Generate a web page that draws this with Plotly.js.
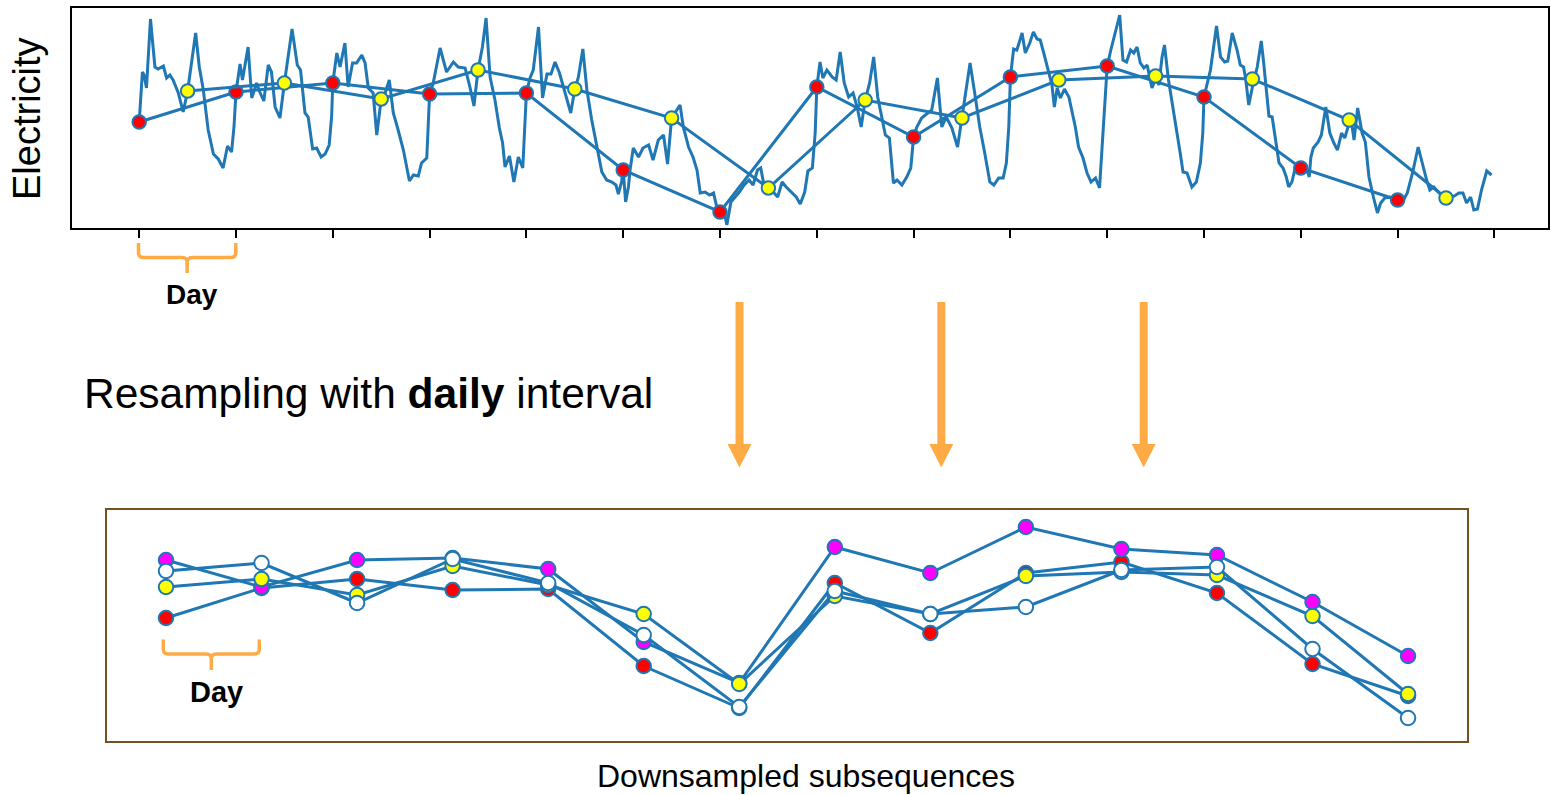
<!DOCTYPE html>
<html>
<head>
<meta charset="utf-8">
<script src="https://cdn.plot.ly/plotly-3.0.1.min.js"></script>
<style>html,body{margin:0;padding:0;background:#fff;}#chart{width:1550px;height:795px;}</style>
</head>
<body>
<div id="chart"></div>
<script>
// ---- Data (hourly-ish electricity readings, arbitrary units) ----
const seriesHours = [
  0,0.8,1.2,1.8,2.8,3.9,4.7,6.0,6.8,7.6,
  8.4,9.7,10.9,12.0,14.0,14.9,15.9,17.1,18.4,19.6,
  20.8,21.9,22.9,23.5,24.0,25.0,25.6,27.0,27.9,29.1,
  29.9,30.9,32.0,32.8,33.7,34.9,36.0,37.9,39.2,40.0,
  41.1,41.9,43.0,44.0,45.1,46.1,47.1,47.7,48.0,49.0,
  49.8,51.0,51.8,52.9,53.9,55.2,56.0,56.8,58.0,58.9,
  60.0,60.9,62.0,63.0,64.2,65.5,67.0,68.0,69.2,70.0,
  71.3,72.0,72.9,74.6,76.2,77.9,79.1,80.8,82.0,83.0,
  84.0,85.1,86.0,87.0,88.2,89.3,90.1,90.7,91.8,92.9,
  94.0,95.1,96.0,96.9,97.7,99.0,100.0,101.1,102.1,103.1,
  104.2,105.2,106.0,107.0,108.0,108.9,110.0,111.0,112.2,113.4,
  114.7,115.9,117.2,118.2,118.8,119.6,120.0,120.6,121.3,121.7,
  122.5,123.8,124.9,126.3,127.4,128.7,130.0,131.0,132.0,133.3,
  134.1,134.9,136.2,137.3,138.3,139.1,140.3,141.4,142.4,143.2,
  144.0,144.8,145.7,146.7,147.8,148.8,150.0,151.2,152.2,153.3,
  154.1,154.9,156.0,157.2,158.3,159.4,160.4,161.6,162.9,163.9,
  165.0,165.8,166.9,167.6,168.0,168.8,169.5,170.5,171.8,172.8,
  173.8,174.8,175.9,177.0,178.0,179.0,180.0,181.1,182.1,183.1,
  184.2,185.0,186.0,187.0,187.9,189.1,190.3,191.3,192.0,192.8,
  194.0,195.4,196.5,197.9,199.0,200.1,201.5,202.9,204.0,206.0,
  207.3,208.4,209.5,210.9,211.9,213.1,214.2,215.0,215.6,216.0,
  216.8,217.6,218.9,219.7,220.8,221.7,222.6,223.4,224.4,225.5,
  226.3,226.9,227.6,228.4,229.4,230.5,231.3,232.1,232.9,234.0,
  235.0,236.0,237.1,238.1,240.0,240.9,243.1,243.9,244.8,245.8,
  246.6,247.4,248.2,249.1,249.9,251.1,252.2,252.8,253.6,254.2,
  255.2,256.3,257.3,258.1,258.8,259.8,261.0,262.1,263.1,263.7,
  264.0,265.6,267.1,268.1,269.1,269.9,271.0,272.2,273.0,273.8,
  274.3,275.1,276.0,277.2,278.2,278.8,279.5,280.1,280.9,281.7,
  282.6,283.6,284.4,285.0,285.8,286.6,287.5,288.0,289.3,290.1,
  290.5,291.1,292.3,293.1,294.2,295.2,296.2,297.1,298.1,298.9,
  299.7,300.5,301.2,302.1,303.2,304.0,304.9,306.0,307.0,307.8,
  308.8,310.1,311.1,312.1,313.2,314.4,315.7,317.1,318.1,319.2,
  320.0,321.0,322.3,323.5,324.7,326.1,327.2,328.2,329.1,330.1,
  330.9,331.8,332.8,334.1,335.3
];
const seriesValues = [
  106,156,153,140,209,161,159,162,150,153,
  148,135,116,137,195,161,138,98,74,69,
  60,82,76,101,136,164,148,181,130,145,
  136,127,163,156,121,110,145,199,163,158,
  115,111,79,80,71,74,83,111,145,175,
  161,185,141,165,165,173,165,140,135,93,
  129,134,148,115,98,78,47,53,52,65,
  70,134,145,180,156,166,161,160,141,122,
  158,181,210,151,128,100,85,61,72,46,
  71,60,135,150,158,201,130,154,154,166,
  155,141,128,115,139,151,179,138,108,81,
  56,48,46,43,34,46,58,26,41,58,
  80,71,80,83,68,88,93,64,110,118,
  123,101,81,71,58,35,36,33,35,21,
  16,21,3,26,31,36,43,48,43,58,
  60,43,40,36,31,46,41,36,31,24,
  36,57,60,95,141,166,150,158,151,148,
  176,145,131,135,121,101,128,145,171,131,
  108,93,90,45,48,43,51,60,91,101,
  110,115,118,150,101,111,100,81,110,165,
  131,101,78,46,43,50,50,65,101,151,
  179,178,195,175,185,196,189,188,173,156,
  143,121,140,130,139,131,115,101,81,70,
  55,46,50,40,162,178,213,168,166,178,
  175,181,165,160,163,140,151,143,171,183,
  148,118,95,75,56,55,41,46,65,95,
  131,158,202,171,166,167,195,178,163,161,
  150,123,141,161,187,165,135,112,111,88,
  65,60,51,41,46,60,63,61,61,51,
  71,80,86,93,121,95,85,78,95,90,
  101,108,88,120,95,86,51,31,15,25,
  30,31,28,28,26,35,55,81,65,48,
  38,41,35,31,30,32,35,35,25,31,
  18,19,38,57,53
];

const dayTickHours = [0,24,48,72,96,120,144,168,192,216,240,264,288,312,336];
const redHours    = [0,24,48,72,96,120,144,168,192,216,240,264,288,312];
const yellowHours = [12,36,60,84,108,132,156,180,204,228,252,276,300,324];
const redValues     = [106,136,145,134,135,58,16,141,91,151,162,131,60,28];
const yellowValues  = [137,145,129,158,139,110,40,128,110,148,152,149,108,30];
const magentaValues = [164,137,164,166,155,82,41,177,151,197,175,169,122,68];
const whiteValues   = [153,161,121,165,141,89,17,133,110,117,154,157,75,6];
const subseqIndex   = [0,1,2,3,4,5,6,7,8,9,10,11,12,13];

// ---- Styling ----
const W = 1550, H = 795;
const BLUE = '#1f77b4';
const ORANGE = '#FFAB45';
const BROWN = '#74521f';
const FONT = 'Liberation Sans, Arial, Helvetica, sans-serif';
const fx = x => x / W;
const fy = y => 1 - y / H;

const topMarker = (c) => ({color: c, size: 13.5, line: {color: BLUE, width: 2}});
const botMarker = (c) => ({color: c, size: 14.5, line: {color: BLUE, width: 2}});

const traces = [
  {x: seriesHours, y: seriesValues, type: 'scatter', mode: 'lines',
   line: {color: BLUE, width: 3}, xaxis: 'x', yaxis: 'y', hoverinfo: 'skip'},
  {x: redHours, y: redValues, type: 'scatter', mode: 'lines+markers',
   line: {color: BLUE, width: 3}, marker: topMarker('#ff0000'), xaxis: 'x', yaxis: 'y'},
  {x: yellowHours, y: yellowValues, type: 'scatter', mode: 'lines+markers',
   line: {color: BLUE, width: 3}, marker: topMarker('#ffff00'), xaxis: 'x', yaxis: 'y'},

  {x: subseqIndex, y: redValues, type: 'scatter', mode: 'lines+markers',
   line: {color: BLUE, width: 3}, marker: botMarker('#ff0000'), xaxis: 'x2', yaxis: 'y2'},
  {x: subseqIndex, y: magentaValues, type: 'scatter', mode: 'lines+markers',
   line: {color: BLUE, width: 3}, marker: botMarker('#ff00ff'), xaxis: 'x2', yaxis: 'y2'},
  {x: subseqIndex, y: yellowValues, type: 'scatter', mode: 'lines+markers',
   line: {color: BLUE, width: 3}, marker: botMarker('#ffff00'), xaxis: 'x2', yaxis: 'y2'},
  {x: subseqIndex, y: whiteValues, type: 'scatter', mode: 'lines+markers',
   line: {color: BLUE, width: 3}, marker: botMarker('#ffffff'), xaxis: 'x2', yaxis: 'y2'}
];

// brace path helper (pixel coords -> paper)
function brace(xl, xr, yTop, yBar, yStem) {
  const xc = (xl + xr) / 2, r = 5;
  const p = (x, y) => fx(x).toFixed(5) + ',' + fy(y).toFixed(5);
  return 'M' + p(xl, yTop) + ' L' + p(xl, yBar - r) + ' Q' + p(xl, yBar) + ' ' + p(xl + r, yBar) +
         ' L' + p(xc - r, yBar) + ' Q' + p(xc, yBar) + ' ' + p(xc, yBar + r) + ' L' + p(xc, yStem) +
         ' M' + p(xc, yBar + r) + ' Q' + p(xc, yBar) + ' ' + p(xc + r, yBar) +
         ' L' + p(xr - r, yBar) + ' Q' + p(xr, yBar) + ' ' + p(xr, yBar - r) + ' L' + p(xr, yTop);
}
function arrowShapes(xc) {
  const p = (x, y) => fx(x).toFixed(5) + ',' + fy(y).toFixed(5);
  return [
    {type: 'line', xref: 'paper', yref: 'paper', x0: fx(xc), x1: fx(xc), y0: fy(302), y1: fy(446),
     line: {color: ORANGE, width: 8}},
    {type: 'path', xref: 'paper', yref: 'paper',
     path: 'M' + p(xc - 12, 444) + ' L' + p(xc + 12, 444) + ' L' + p(xc, 467.5) + ' Z',
     fillcolor: ORANGE, line: {color: ORANGE, width: 0}}
  ];
}

const shapes = [
  {type: 'path', xref: 'paper', yref: 'paper', path: brace(138.5, 235.8, 243, 257.5, 273),
   line: {color: ORANGE, width: 3.5}},
  {type: 'path', xref: 'paper', yref: 'paper', path: brace(163.3, 259.3, 639.5, 654, 670),
   line: {color: ORANGE, width: 3.5}}
].concat(arrowShapes(739.5), arrowShapes(941.3), arrowShapes(1143.7));

const annotations = [
  {xref: 'paper', yref: 'paper', x: fx(82), y: fy(393), xanchor: 'left', yanchor: 'middle',
   text: 'Resampling with <b>daily</b> interval', showarrow: false,
   font: {family: FONT, size: 42.5, color: '#000'}},
  {xref: 'paper', yref: 'paper', x: fx(806), y: fy(776), xanchor: 'center', yanchor: 'middle',
   text: 'Downsampled subsequences', showarrow: false,
   font: {family: FONT, size: 32, color: '#000'}},
  {xref: 'paper', yref: 'paper', x: fx(27), y: fy(119), xanchor: 'center', yanchor: 'middle',
   text: 'Electricity', textangle: -90, showarrow: false,
   font: {family: FONT, size: 38, color: '#000'}},
  {xref: 'paper', yref: 'paper', x: fx(191.5), y: fy(295), xanchor: 'center', yanchor: 'middle',
   text: '<b>Day</b>', showarrow: false, font: {family: FONT, size: 28, color: '#000'}},
  {xref: 'paper', yref: 'paper', x: fx(216.5), y: fy(692), xanchor: 'center', yanchor: 'middle',
   text: '<b>Day</b>', showarrow: false, font: {family: FONT, size: 29, color: '#000'}}
];

const layout = {
  width: W, height: H,
  margin: {l: 0, r: 0, t: 0, b: 0, pad: 0},
  paper_bgcolor: '#ffffff', plot_bgcolor: 'rgba(0,0,0,0)',
  showlegend: false,
  font: {family: FONT},
  xaxis: {domain: [fx(72), fx(1548)], range: [-16.66, 349.29], tickvals: dayTickHours,
          ticks: 'outside', ticklen: 8, tickwidth: 2, tickcolor: '#000', showticklabels: false,
          showline: true, linewidth: 2, linecolor: '#000', mirror: true,
          showgrid: false, zeroline: false, fixedrange: true},
  yaxis: {domain: [fy(228), fy(8)], range: [0, 220], showticklabels: false, ticks: '',
          showline: true, linewidth: 2, linecolor: '#000', mirror: true,
          showgrid: false, zeroline: false, fixedrange: true},
  xaxis2: {anchor: 'y2', domain: [fx(107), fx(1467)], range: [-0.6175, 13.617],
           showticklabels: false, ticks: '', showline: true, linewidth: 2, linecolor: BROWN,
           mirror: true, showgrid: false, zeroline: false, fixedrange: true},
  yaxis2: {anchor: 'x2', domain: [fy(741), fy(510)], range: [-17, 214],
           showticklabels: false, ticks: '', showline: true, linewidth: 2, linecolor: BROWN,
           mirror: true, showgrid: false, zeroline: false, fixedrange: true},
  shapes: shapes,
  annotations: annotations
};

Plotly.newPlot('chart', traces, layout, {staticPlot: true, displayModeBar: false});
</script>
</body>
</html>
